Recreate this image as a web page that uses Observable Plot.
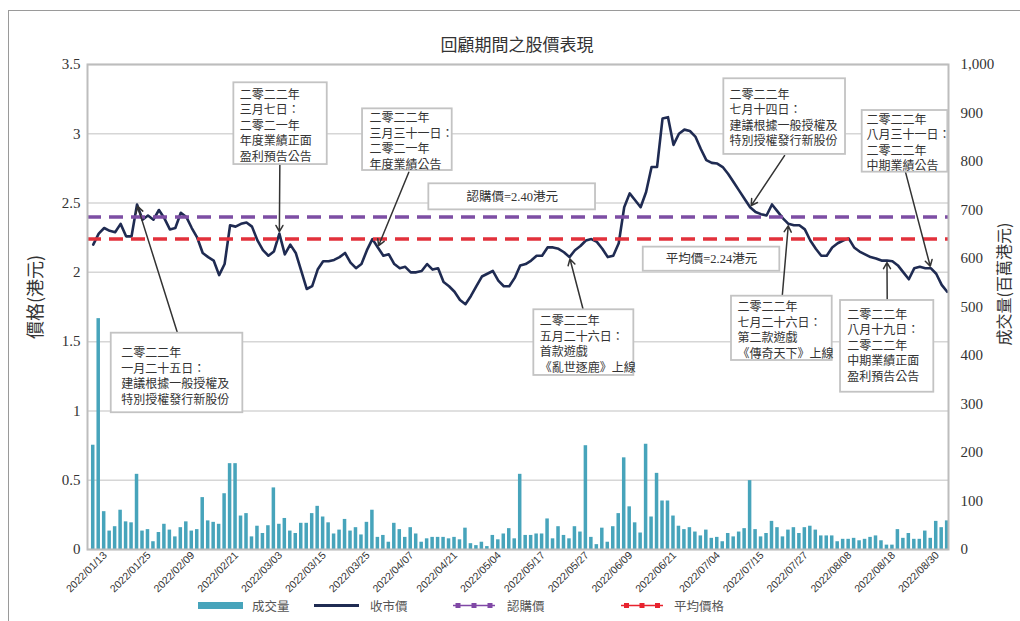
<!DOCTYPE html>
<html><head><meta charset="utf-8">
<script src="https://cdn.jsdelivr.net/npm/d3@7"></script>
<script src="https://cdn.jsdelivr.net/npm/@observablehq/plot@0.6"></script>
<style>
body{margin:0;background:#fff;font-family:"Noto Sans CJK TC",sans-serif;}
#wrap{position:relative;width:1020px;height:621px;overflow:hidden;}
#frame{position:absolute;left:8px;top:10px;width:1030px;height:640px;border:1px solid #9a9a9a;box-sizing:border-box;}
#chart{position:absolute;left:0;top:0;}
#title{position:absolute;left:0;width:1034px;top:33px;text-align:center;font-size:17px;color:#333;line-height:21px;}
.ylab{position:absolute;white-space:nowrap;transform:translate(-50%,-50%) rotate(-90deg);color:#333;line-height:1;}
#legend{position:absolute;left:0;top:594px;}
#legend text{font-size:12.5px;fill:#555;font-family:"Noto Sans CJK TC",sans-serif;}
</style></head><body>
<div id="wrap">
<div id="frame"></div>
<div id="chart"></div>
<div id="title">回顧期間之股價表現</div>
<div class="ylab" id="ylabL" style="left:34px;top:297px;font-size:18px;"></div>
<div class="ylab" id="ylabR" style="left:1003px;top:284px;font-size:16px;"></div>
<svg id="legend" width="1020" height="24">
  <rect x="198" y="8" width="45" height="7" fill="#47a4bb"></rect>
  <text x="252" y="16.5">成交量</text>
  <line x1="314" x2="359" y1="11.5" y2="11.5" stroke="#1f2b52" stroke-width="3"></line>
  <text x="370" y="16.5">收市價</text>
  <line x1="453" x2="495" y1="11.5" y2="11.5" stroke="#8048a6" stroke-width="1.5"></line>
  <rect x="455.5" y="9" width="5" height="5" fill="#8048a6"></rect>
  <rect x="471.5" y="9" width="5" height="5" fill="#8048a6"></rect>
  <rect x="487.5" y="9" width="5" height="5" fill="#8048a6"></rect>
  <text x="507" y="16.5">認購價</text>
  <line x1="621" x2="663" y1="11.5" y2="11.5" stroke="#e8232e" stroke-width="1.5"></line>
  <rect x="624" y="9" width="5" height="5" fill="#e8232e"></rect>
  <rect x="639.5" y="9" width="5" height="5" fill="#e8232e"></rect>
  <rect x="655" y="9" width="5" height="5" fill="#e8232e"></rect>
  <text x="674" y="16.5">平均價格</text>
</svg>
</div>
<script>
// ---- data ----
const dates = [
"2022/01/13","2022/01/14","2022/01/17","2022/01/18","2022/01/19","2022/01/20","2022/01/21","2022/01/24","2022/01/25","2022/01/26","2022/01/27","2022/01/28","2022/01/31",
"2022/02/04","2022/02/07","2022/02/08","2022/02/09","2022/02/10","2022/02/11","2022/02/14","2022/02/15","2022/02/16","2022/02/17","2022/02/18","2022/02/21","2022/02/22","2022/02/23","2022/02/24","2022/02/25","2022/02/28",
"2022/03/01","2022/03/02","2022/03/03","2022/03/04","2022/03/07","2022/03/08","2022/03/09","2022/03/10","2022/03/11","2022/03/14","2022/03/15","2022/03/16","2022/03/17","2022/03/18","2022/03/21","2022/03/22","2022/03/23","2022/03/24","2022/03/25","2022/03/28","2022/03/29","2022/03/30","2022/03/31",
"2022/04/01","2022/04/04","2022/04/06","2022/04/07","2022/04/08","2022/04/11","2022/04/12","2022/04/13","2022/04/14","2022/04/19","2022/04/20","2022/04/21","2022/04/22","2022/04/25","2022/04/26","2022/04/27","2022/04/28","2022/04/29",
"2022/05/03","2022/05/04","2022/05/05","2022/05/06","2022/05/10","2022/05/11","2022/05/12","2022/05/13","2022/05/16","2022/05/17","2022/05/18","2022/05/19","2022/05/20","2022/05/23","2022/05/24","2022/05/25","2022/05/26","2022/05/27","2022/05/30","2022/05/31",
"2022/06/01","2022/06/02","2022/06/06","2022/06/07","2022/06/08","2022/06/09","2022/06/10","2022/06/13","2022/06/14","2022/06/15","2022/06/16","2022/06/17","2022/06/20","2022/06/21","2022/06/22","2022/06/23","2022/06/24","2022/06/27","2022/06/28","2022/06/29","2022/06/30",
"2022/07/04","2022/07/05","2022/07/06","2022/07/07","2022/07/08","2022/07/11","2022/07/12","2022/07/13","2022/07/15","2022/07/18","2022/07/19","2022/07/20","2022/07/21","2022/07/22","2022/07/25","2022/07/26","2022/07/27","2022/07/28","2022/07/29",
"2022/08/01","2022/08/02","2022/08/03","2022/08/04","2022/08/05","2022/08/08","2022/08/09","2022/08/10","2022/08/11","2022/08/12","2022/08/15","2022/08/16","2022/08/17","2022/08/18","2022/08/19","2022/08/22","2022/08/23","2022/08/24","2022/08/25","2022/08/26","2022/08/29","2022/08/30","2022/08/31",
"2022/09/01","2022/09/02","2022/09/05"];

// closing price (HK$)
const closePrice = [
2.20,2.28,2.32,2.30,2.29,2.35,2.26,2.26,2.49,2.38,
2.41,2.38,2.45,2.39,2.31,2.32,2.43,2.40,2.32,2.25,
2.14,2.11,2.085,1.98,2.06,2.34,2.33,2.35,2.36,2.33,
2.23,2.16,2.12,2.15,2.28,2.13,2.20,2.14,2.01,1.88,
1.90,2.02,2.08,2.08,2.09,2.11,2.14,2.07,2.03,2.06,
2.16,2.24,2.18,2.12,2.13,2.06,2.03,2.04,2.00,2.00,
2.01,2.06,2.02,2.03,1.93,1.90,1.86,1.80,1.77,1.83,
1.90,1.97,1.99,2.01,1.94,1.90,1.90,1.96,2.05,2.06,
2.085,2.12,2.12,2.18,2.18,2.17,2.145,2.11,2.16,2.19,
2.23,2.24,2.22,2.17,2.11,2.12,2.21,2.47,2.57,2.52,
2.47,2.58,2.76,2.76,3.11,3.12,2.92,3.00,3.03,3.02,
2.98,2.89,2.81,2.79,2.785,2.76,2.71,2.65,2.59,2.53,
2.47,2.435,2.42,2.41,2.49,2.44,2.39,2.35,2.34,2.34,
2.31,2.23,2.17,2.12,2.12,2.18,2.21,2.23,2.245,2.18,
2.15,2.13,2.11,2.10,2.085,2.085,2.08,2.05,2.00,1.95,
2.03,2.04,2.03,2.03,1.99,1.91,1.86];

// turnover (HK$ million)
const turnover = [
215,476,78,38,47,81,57,55,155,38,
41,16,35,52,40,26,45,57,38,41,
107,59,56,52,115,177,177,69,74,26,
48,33,49,127,52,64,38,33,54,54,
74,89,67,55,32,40,62,38,45,30,
56,81,25,29,15,54,41,25,45,32,
15,22,25,25,25,22,25,20,44,12,
8,15,6,29,20,32,43,22,155,29,
29,32,32,63,22,47,29,22,47,36,
214,25,10,44,15,47,74,189,88,55,
34,217,67,157,100,100,69,48,41,45,
36,28,40,23,25,16,33,26,36,43,
142,41,26,33,58,45,26,40,45,33,
45,48,40,28,28,28,16,21,21,23,
18,21,25,28,18,9,9,41,23,33,
21,21,38,23,58,45,59];

const tickDates = ["2022/01/13","2022/01/25","2022/02/09","2022/02/21","2022/03/03","2022/03/15","2022/03/25","2022/04/07","2022/04/21","2022/05/04","2022/05/17","2022/05/27","2022/06/09","2022/06/21","2022/07/04","2022/07/15","2022/07/27","2022/08/08","2022/08/18","2022/08/30"];
const priceTicks = [0,0.5,1,1.5,2,2.5,3,3.5];
const volumeTicks = [0,100,200,300,400,500,600,700,800,900,1000];
const subscriptionPrice = 2.40;
const averagePrice = 2.24;
const priceLabels = ["認購價=2.40港元","平均價=2.24港元"];
const axisTitles = ["價格(港元)","成交量(百萬港元)"];

const noteAt = ["2022/01/25","2022/03/07","2022/03/31","2022/05/26","2022/07/15","2022/07/26","2022/08/19","2022/08/31"];
const noteText = [
"二零二二年\n一月二十五日：\n建議根據一般授權及\n特別授權發行新股份",
"二零二二年\n三月七日：\n二零二一年\n年度業績正面\n盈利預告公告",
"二零二二年\n三月三十一日：\n二零二一年\n年度業績公告",
"二零二二年\n五月二十六日：\n首款遊戲\n《亂世逐鹿》上線",
"二零二二年\n七月十四日：\n建議根據一般授權及\n特別授權發行新股份",
"二零二二年\n七月二十六日：\n第二款遊戲\n《傳奇天下》上線",
"二零二二年\n八月十九日：\n二零二二年\n中期業績正面\n盈利預告公告",
"二零二二年\n八月三十一日：\n二零二二年\n中期業績公告"];

// ---- annotation layout (chart units: day index / price) ----
const noteBox = [
 {x1:3.29,x2:27.33,y1:0.987,y2:1.561, tx:5.12,ty:1.467, ax:15.35,ay:1.568},
 {x1:25.69,x2:42.75,y1:2.778,y2:3.368, tx:26.78,ty:3.332, ax:34.09,ay:2.778},
 {x1:49.2,x2:65.58,y1:2.735,y2:3.18, tx:50.48,ty:3.163, ax:57.65,ay:2.723},
 {x1:80.49,x2:98.76,y1:1.256,y2:1.73, tx:81.59,ty:1.696, ax:89.51,ay:1.73},
 {x1:115.2,x2:137.43,y1:2.851,y2:3.397, tx:116.24,ty:3.332, ax:126.29,ay:2.843},
 {x1:116.6,x2:135.0,y1:1.364,y2:1.828, tx:117.7,ty:1.797, ax:125.87,ay:1.828},
 {x1:136.52,x2:153.56,y1:1.135,y2:1.797, tx:137.74,ty:1.744, ax:145.05,ay:1.797},
 {x1:140.48,x2:156.12,y1:2.723,y2:3.168, tx:141.27,ty:3.151, ax:148.39,ay:2.723}];
const priceBox = [
 {x1:61.31,x2:91.76,y1:2.451,y2:2.639, tx:76.54,ty:2.545},
 {x1:100.48,x2:125.43,y1:2.008,y2:2.182, tx:112.95,ty:2.095}];

// ---- build ----
document.getElementById("ylabL").textContent = axisTitles[0];
document.getElementById("ylabR").textContent = axisTitles[1];
const k = 3.5 / 1000; // turnover -> price axis
const rows = dates.map((d, i) => ({i, date: d, close: closePrice[i], vol: turnover[i]}));
const notes = noteText.map((t, j) => {
  const i = dates.indexOf(noteAt[j]);
  return {...noteBox[j], text: t, ti: i, tp: closePrice[i]};
});
const pboxes = priceLabels.map((t, j) => ({...priceBox[j], text: t}));
const tickIdx = tickDates.map(d => dates.indexOf(d));
const serif = "'Liberation Serif','Noto Sans CJK TC',serif";

const chart = Plot.plot({
  width: 1020, height: 600,
  marginTop: 64, marginBottom: 51, marginLeft: 87, marginRight: 72,
  style: {fontFamily: serif, background: "transparent", overflow: "visible"},
  x: {type: "linear", domain: [-0.5, dates.length - 0.5], range: [90, 949.4]},
  y: {domain: [0, 3.5]},
  marks: [
    Plot.gridY(priceTicks, {stroke: "#d6d6d6", strokeOpacity: 1, strokeWidth: 1.5}),
    Plot.rect(rows, {x1: d => d.i - 0.32, x2: d => d.i + 0.32, y1: 0, y2: d => d.vol * k, fill: "#47a4bb"}),
    Plot.line(rows, {x: "i", y: "close", stroke: "#1f2b52", strokeWidth: 2.6, curve: "linear"}),
    Plot.ruleY([subscriptionPrice], {stroke: "#7d4ea4", strokeWidth: 3.5, strokeDasharray: "14,8"}),
    Plot.ruleY([averagePrice], {stroke: "#e2313b", strokeWidth: 3.5, strokeDasharray: "14,8"}),
    Plot.frame({stroke: "#bdbdbd", strokeWidth: 2}),
    Plot.axisY({ticks: priceTicks, tickFormat: d => String(d), tickSize: 0, tickPadding: 7, fontSize: 15, color: "#333", label: null}),
    Plot.axisY({anchor: "right", ticks: volumeTicks.map(v => v * k), tickFormat: v => d3.format(",")(Math.round(v / k)), tickSize: 0, tickPadding: 12, fontSize: 15, color: "#333", label: null}),
    Plot.axisX({ticks: tickIdx, tickFormat: i => dates[i], tickRotate: -45, tickSize: 0, tickPadding: 4, fontSize: 10.5, fontFamily: "'Liberation Sans',sans-serif", color: "#333", label: null, dx: 12}),
    // annotation boxes
    Plot.rect(pboxes, {x1: "x1", x2: "x2", y1: "y1", y2: "y2", fill: "white", stroke: "#c3c3c3", strokeWidth: 1.8}),
    Plot.text(pboxes, {x: "tx", y: "ty", text: "text", fontSize: 12.5, fill: "#333", fontFamily: serif}),
    Plot.arrow(notes, {x1: "ax", y1: "ay", x2: "ti", y2: "tp", stroke: "#333", strokeWidth: 1.5, headLength: 7, insetEnd: 2}),
    Plot.rect(notes, {x1: "x1", x2: "x2", y1: "y1", y2: "y2", fill: "white", stroke: "#c3c3c3", strokeWidth: 1.8}),
    Plot.text(notes, {x: "tx", y: "ty", text: "text", textAnchor: "start", lineAnchor: "top", lineHeight: 1.29, fontSize: 12, fill: "#333", fontFamily: serif})
  ]
});
document.getElementById("chart").appendChild(chart);
</script>
</body></html>
